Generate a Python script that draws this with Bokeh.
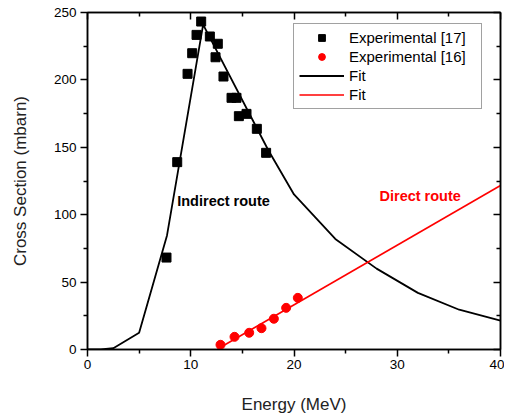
from bokeh.plotting import figure
from bokeh.models import LinearAxis, Range1d, Legend, LegendItem, FixedTicker
from bokeh.core.properties import value
from bokeh.embed import file_html
from bokeh.resources import INLINE

# Experimental [17] (indirect route)
exp17_e = [7.65, 8.69, 9.69, 10.14, 10.56, 11.01, 11.85, 12.40, 12.62, 13.17,
           13.95, 14.43, 14.66, 15.40, 16.40, 17.30]
exp17_s = [68.2, 139.0, 204.5, 219.8, 233.4, 243.3, 232.2, 216.8, 226.8, 202.5,
           186.7, 186.7, 173.1, 174.8, 163.7, 145.9]

# Experimental [16] (direct route)
exp16_e = [12.88, 14.24, 15.66, 16.85, 18.05, 19.24, 20.37]
exp16_s = [3.5, 9.4, 12.4, 15.8, 22.8, 30.9, 38.3]

# Fit (indirect)
fit1_e = [0, 1.3, 2.5, 5.0, 7.7, 11.2, 17.5, 20.0, 24.0, 28.0, 32.0, 36.0, 40.0]
fit1_s = [0, 0, 1.0, 12.4, 84.6, 241.0, 148.0, 115.0, 82.0, 60.0, 42.0, 29.5, 21.5]

# Fit (direct)
fit2_e = [12.6, 40.0]
fit2_s = [0.4, 121.7]

x_major = [0, 10, 20, 30, 40]
x_minor = [5, 15, 25, 35]
y_major = [0, 50, 100, 150, 200, 250]
y_minor = [25, 75, 125, 175, 225]

FONT = "Liberation Sans"

p = figure(width=504, height=416, output_backend="svg", toolbar_location=None,
           x_range=Range1d(0, 40), y_range=Range1d(0, 250),
           min_border_left=87, min_border_right=4, min_border_top=12,
           min_border_bottom=66)
p.xgrid.visible = False
p.ygrid.visible = False
p.outline_line_color = "black"
p.outline_line_width = 1.5
p.background_fill_color = "white"
p.border_fill_color = "white"

r_fit1 = p.line(fit1_e, fit1_s, line_color="black", line_width=1.8)
r_fit2 = p.line(fit2_e, fit2_s, line_color="red", line_width=1.6)
r_exp17 = p.scatter(exp17_e, exp17_s, marker="square", size=9,
                    fill_color="black", line_color="black")
r_exp16 = p.scatter(exp16_e, exp16_s, marker="circle", size=9,
                    fill_color="red", line_color="red")

p.text(x=[8.69], y=[110.5], text=["Indirect route"], text_font=value(FONT),
       text_font_size="14.5px", text_font_style="bold", text_color="black",
       text_baseline="middle", text_align="left")
p.text(x=[28.28], y=[114.2], text=["Direct route"], text_font=value(FONT),
       text_font_size="14.5px", text_font_style="bold", text_color="red",
       text_baseline="middle", text_align="left")

xt = FixedTicker(ticks=x_major, minor_ticks=x_minor)
yt = FixedTicker(ticks=y_major, minor_ticks=y_minor)

xa = p.xaxis[0]
xa.ticker = xt
xa.axis_label = "Energy (MeV)"
ya = p.yaxis[0]
ya.ticker = yt
ya.axis_label = "Cross Section (mbarn)"
for ax in (xa, ya):
    ax.axis_line_width = 1.5
    ax.major_tick_line_width = 1.5
    ax.minor_tick_line_width = 1.5
    ax.major_tick_out = 7
    ax.major_tick_in = 0
    ax.minor_tick_out = 4
    ax.minor_tick_in = 0
    ax.major_label_text_font = FONT
    ax.major_label_text_font_size = "13.5px"
    ax.major_label_text_color = "black"
    ax.axis_label_text_font = FONT
    ax.axis_label_text_font_size = "17px"
    ax.axis_label_text_font_style = "normal"
    ax.axis_label_text_color = "#222222"
xa.major_label_standoff = 3
xa.axis_label_standoff = 23
ya.major_label_standoff = 4
ya.axis_label_standoff = 21

top = LinearAxis(ticker=xt, major_label_overrides={t: "" for t in x_major})
right = LinearAxis(ticker=yt, major_label_overrides={t: "" for t in y_major})
for ax in (top, right):
    ax.axis_line_width = 1.5
    ax.major_tick_line_width = 1.5
    ax.minor_tick_line_width = 1.5
    ax.major_tick_out = 0
    ax.major_tick_in = 7
    ax.minor_tick_out = 0
    ax.minor_tick_in = 4
    ax.major_label_standoff = 0
p.add_layout(top, "above")
p.add_layout(right, "right")

legend = Legend(items=[
    LegendItem(label="Experimental [17]", renderers=[r_exp17]),
    LegendItem(label="Experimental [16]", renderers=[r_exp16]),
    LegendItem(label="Fit", renderers=[r_fit1]),
    LegendItem(label="Fit", renderers=[r_fit2]),
], location=(206, 240))
legend.label_text_font = FONT
legend.label_text_font_size = "15px"
legend.label_text_color = "black"
legend.glyph_width = 45
legend.glyph_height = 17
legend.label_height = 17
legend.label_width = 127
legend.label_standoff = 5
legend.padding = 5
legend.spacing = 2
legend.margin = 0
legend.border_line_color = "#444444"
legend.border_line_width = 1
legend.background_fill_alpha = 1
p.add_layout(legend, "center")

open("out.html", "w").write(file_html(p, INLINE))
